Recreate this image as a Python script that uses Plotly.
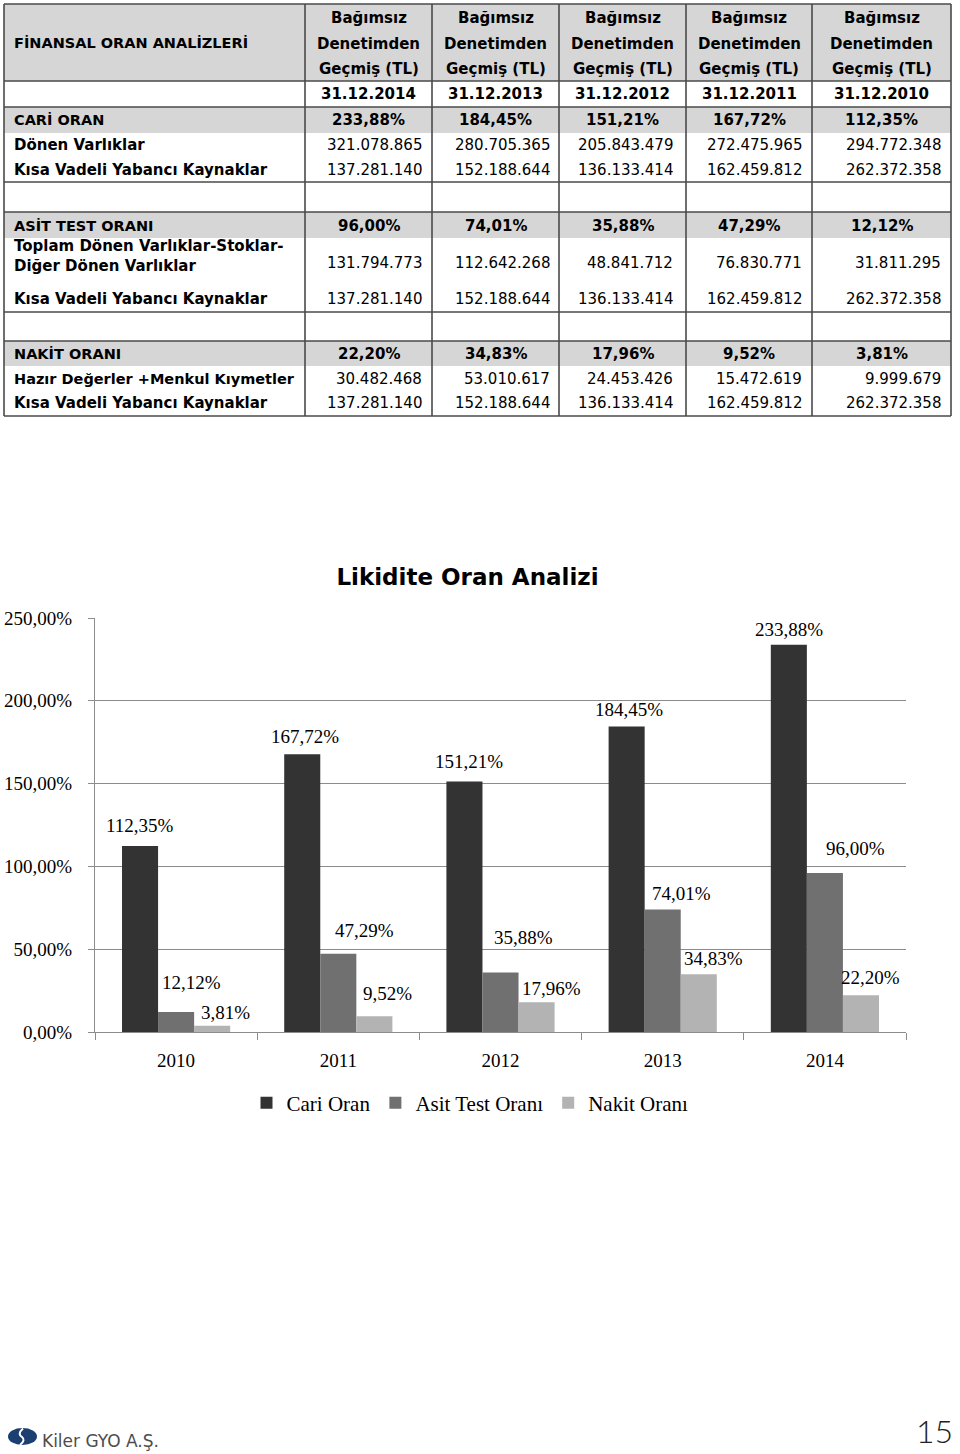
import plotly.graph_objects as go

# ---------------- data ----------------
chart_years = ["2010", "2011", "2012", "2013", "2014"]
cari_oran = [112.35, 167.72, 151.21, 184.45, 233.88]
asit_test = [12.12, 47.29, 35.88, 74.01, 96.00]
nakit_oran = [3.81, 9.52, 17.96, 34.83, 22.20]
series_names = ["Cari Oran", "Asit Test Oranı", "Nakit Oranı"]
y_ticks = [0, 50, 100, 150, 200, 250]

table_dates = ["31.12.2014", "31.12.2013", "31.12.2012", "31.12.2011", "31.12.2010"]
header_lines = ["Bağımsız", "Denetimden", "Geçmiş (TL)"]
donen_varliklar = ["321.078.865", "280.705.365", "205.843.479", "272.475.965", "294.772.348"]
kisa_vadeli = ["137.281.140", "152.188.644", "136.133.414", "162.459.812", "262.372.358"]
toplam_donen = ["131.794.773", "112.642.268", "48.841.712", "76.830.771", "31.811.295"]
hazir_degerler = ["30.482.468", "53.010.617", "24.453.426", "15.472.619", "9.999.679"]

# ---------------- helpers ----------------
W, H = 960, 1454


def X(px):
    return px / W


def Y(py):
    return 1 - py / H


def pct(v):
    return f"{v:.2f}".replace(".", ",") + "%"


TFONT = "DejaVu Sans"
SERIF = "Liberation Serif"
GRAY_FILL = "#d6d6d6"
LINE = "#4a4a4a"

shapes = []
annotations = []


def text(px, py, s, size=15, bold=False, anchor="center", family=TFONT, color="#000", weight=None):
    f = dict(family=family, size=size, color=color)
    if bold:
        f["weight"] = "bold"
    if weight is not None:
        f["weight"] = weight
    annotations.append(dict(x=X(px), y=Y(py), xref="paper", yref="paper", text=s,
                            showarrow=False, xanchor=anchor, yanchor="middle", align=anchor
                            if anchor != "center" else "center", font=f))


# ---------------- table ----------------
left, right, top, bottom = 4, 951, 4, 416
for (y0, y1) in [(4, 81), (107, 133), (212, 238), (341, 366)]:
    shapes.append(dict(type="rect", xref="paper", yref="paper", x0=X(left), x1=X(right),
                       y0=Y(y1), y1=Y(y0), fillcolor=GRAY_FILL, line=dict(width=0), layer="below"))
for yy in [4, 81, 107, 182, 212, 312, 341, 416]:
    shapes.append(dict(type="line", xref="paper", yref="paper", x0=X(left), x1=X(right),
                       y0=Y(yy), y1=Y(yy), line=dict(color=LINE, width=1.6)))
for xx in [4, 305, 432, 559, 686, 812, 951]:
    shapes.append(dict(type="line", xref="paper", yref="paper", x0=X(xx), x1=X(xx),
                       y0=Y(top), y1=Y(bottom), line=dict(color=LINE, width=1.6)))

col_centers = [368.5, 495.5, 622.5, 749, 881.5]
col_rights = [424, 552, 675, 804, 943]
CAPS = 14.5
LBL = 15

text(12, 43, "FİNANSAL ORAN ANALİZLERİ", size=CAPS, bold=True, anchor="left")
for c in col_centers:
    for ln, yy in zip(header_lines, [18, 43.5, 69]):
        text(c, yy, ln, bold=True)
for c, d in zip(col_centers, table_dates):
    text(c, 94, d, bold=True)

sections = [
    ("CARİ ORAN", 120, cari_oran,
     [("Dönen Varlıklar", 145, 145, donen_varliklar, LBL),
      ("Kısa Vadeli Yabancı Kaynaklar", 170, 170, kisa_vadeli, LBL)]),
    ("ASİT TEST ORANI", 226, asit_test,
     [("Toplam Dönen Varlıklar-Stoklar-<br>Diğer Dönen Varlıklar", 256, 263, toplam_donen, LBL),
      ("Kısa Vadeli Yabancı Kaynaklar", 299, 299, kisa_vadeli, LBL)]),
    ("NAKİT ORANI", 354, nakit_oran,
     [("Hazır Değerler +Menkul Kıymetler", 379, 379, hazir_degerler, 14.5),
      ("Kısa Vadeli Yabancı Kaynaklar", 403, 403, kisa_vadeli, LBL)]),
]
for title, ty, vals, rows in sections:
    text(12, ty, title, size=CAPS, bold=True, anchor="left")
    for c, v in zip(col_centers, list(reversed(vals))):
        text(c, ty, pct(v), bold=True)
    for label, ly, ny, nums, sz in rows:
        text(12, ly, label, size=sz, bold=True, anchor="left")
        for r, n in zip(col_rights, nums):
            text(r, ny, n, anchor="right")

# ---------------- chart ----------------
colors = ["#333333", "#707070", "#b3b3b3"]
all_series = [cari_oran, asit_test, nakit_oran]

fig = go.Figure()
for name, vals, col in zip(series_names, all_series, colors):
    fig.add_trace(go.Bar(x=chart_years, y=vals, name=name, marker=dict(color=col, line=dict(width=0))))

# label placement (pixel shifts relative to each bar top)
series_offset = [-36, 0, 36]
label_dx = [[0, 3, 4, 2, 0], [15, 26, 23, 19, 31], [13, 13, 15, 15, 10]]
label_dy = [[20, 18, 20, 17, 15], [29, 23, 35, 16, 25], [13, 23, 14, 16, 18]]
for s, vals in enumerate(all_series):
    for i, v in enumerate(vals):
        annotations.append(dict(x=i, y=v, xref="x", yref="y", text=pct(v),
                                showarrow=False, xanchor="center", yanchor="middle",
                                xshift=series_offset[s] + label_dx[s][i], yshift=label_dy[s][i],
                                font=dict(family=SERIF, size=19, color="#000")))

# footer
shapes.append(dict(type="circle", xref="paper", yref="paper", x0=X(8), x1=X(37), y0=Y(1445), y1=Y(1428),
                   fillcolor="#1c3f72", line=dict(width=0)))
shapes.append(dict(type="path", xref="paper", yref="paper",
                   path=f"M {X(23)} {Y(1428.5)} Q {X(17)} {Y(1434)} {X(22)} {Y(1437)} Q {X(26)} {Y(1440)} {X(20)} {Y(1445)}",
                   line=dict(color="white", width=2)))
text(40, 1441, "Kiler GYO A.Ş.", size=17, anchor="left", color="#4d4d4d")
text(955, 1430, "15", size=32, anchor="right", color="#222", family="Lato", weight=300)

fig.update_layout(
    width=W, height=H,
    margin=dict(l=0, r=0, t=0, b=0, autoexpand=False),
    paper_bgcolor="white", plot_bgcolor="white",
    separators=",.",
    barmode="group", bargap=0.333, bargroupgap=0,
    title=dict(text="Likidite Oran Analizi", x=X(467.5), xanchor="center", y=Y(577), yanchor="middle",
               font=dict(family=TFONT, size=23, color="#000", weight="bold")),
    xaxis=dict(domain=[X(95), X(906)], type="category", range=[-0.5, 4.5], autorange=False,
               showline=True, linecolor="#8c8c8c", linewidth=1, automargin=False,
               ticks="outside", tickson="boundaries", ticklen=7, tickcolor="#8c8c8c", showgrid=False,
               tickangle=0, tickfont=dict(family=SERIF, size=19, color="#000"), ticklabelstandoff=11),
    yaxis=dict(domain=[Y(1032), Y(618)], range=[0, 250], autorange=False, tickvals=y_ticks,
               ticktext=[pct(v) for v in y_ticks], automargin=False,
               showline=True, linecolor="#8c8c8c", linewidth=1, ticks="outside", ticklen=6, tickcolor="#8c8c8c",
               showgrid=True, gridcolor="#8c8c8c", gridwidth=1, zeroline=False,
               tickfont=dict(family=SERIF, size=19, color="#000"), ticklabelstandoff=12),
    legend=dict(orientation="h", x=X(470), xanchor="center", y=Y(1103), yanchor="middle",
                font=dict(family=SERIF, size=21, color="#000"), traceorder="normal"),
    shapes=shapes,
    annotations=annotations,
)

fig.write_html("out.html")
